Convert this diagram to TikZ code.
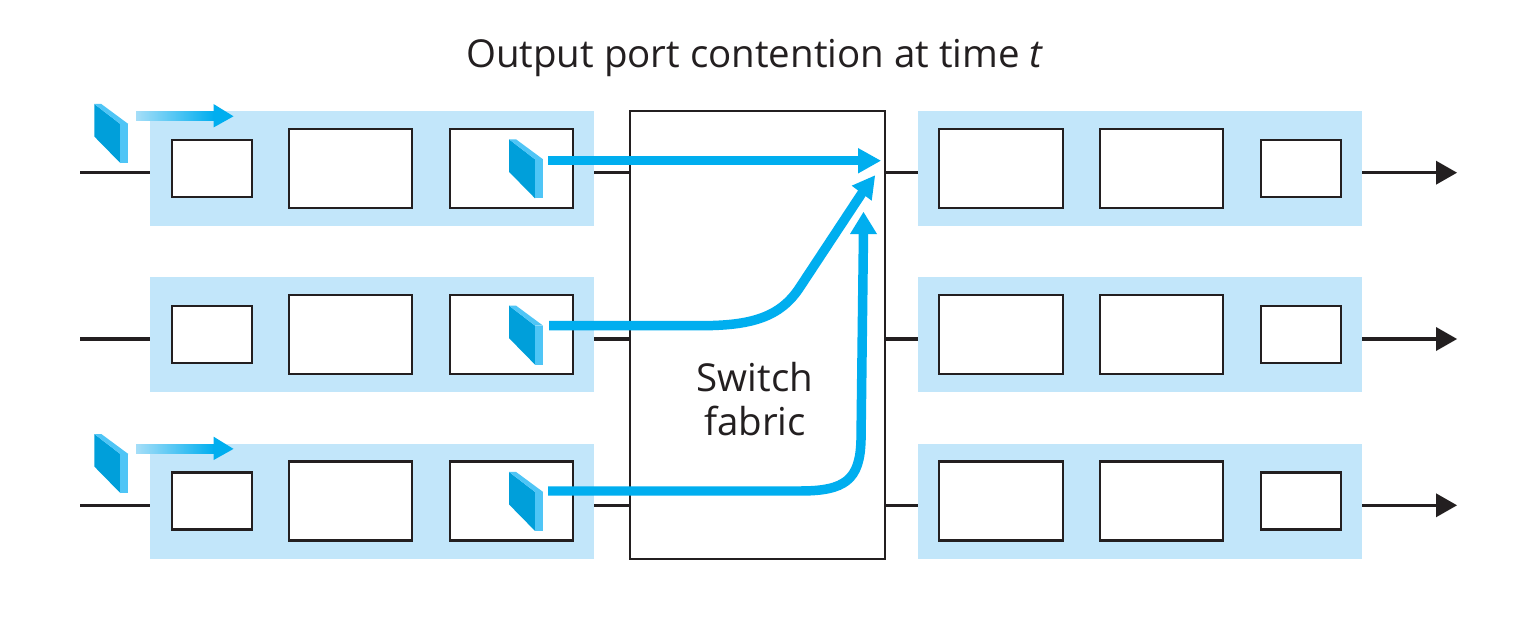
\documentclass[tikz,border=0pt]{standalone}
\usepackage{fontspec}
\setmainfont{Open Sans}
\definecolor{portblue}{HTML}{C2E6FA}
\definecolor{flow}{HTML}{00AEEF}
\definecolor{flowlight}{HTML}{A5DEF8}
\definecolor{pktfront}{HTML}{009FDA}
\definecolor{pktside}{HTML}{4FC5F6}
\definecolor{ink}{HTML}{231F20}
\tikzset{
  x=0.02cm,y=-0.02cm,
  portbg/.style={fill=portblue,draw=none,inner sep=0pt,outer sep=0pt},
  unit/.style={fill=white,draw=ink,line width=1.3pt,inner sep=0pt,outer sep=0pt},
  wire/.style={draw=ink,line width=1.95pt},
  flowline/.style={draw=flow,line width=5.4pt},
  flowhead/.style={fill=flow,draw=none},
  label/.style={text=ink,font=\fontsize{21.9}{25}\selectfont,align=center,inner sep=0pt}
}
\newcommand{\bx}[6]{\node[#6,minimum width={((#4)-(#2))*0.02cm},minimum height={((#5)-(#3))*0.02cm}] (#1) at ({((#2)+(#4))/2},{((#3)+(#5))/2}) {};}
\newcommand{\pkt}[2]{%
  \begin{scope}[shift={(#1,#2)}]
    \fill[pktfront] (0,0) -- (26,20) -- (26,59) -- (0,32.5) -- cycle;
    \fill[pktside] (26,20) -- (34,20) -- (34,59) -- (26,59) -- cycle;
    \fill[pktside] (0,0) -- (7,0) -- (34,20) -- (26,20) -- cycle;
  \end{scope}}
\newcommand{\inarrow}[1]{%
  \begin{scope}[shift={(0,#1)}]
    \shade[left color=flowlight,middle color=flow,right color=flow] (136,112) rectangle (214,121);
    \fill[flowhead] (213.5,104) -- (233.5,116.3) -- (213.5,127.5) -- cycle;
  \end{scope}}
\begin{document}
\begin{tikzpicture}
\useasboundingbox (0,0) rectangle (1535,635);
\fill[white] (0,0) rectangle (1535,635);
\foreach \r/\d in {1/0,2/166.3,3/332.6}{
  \bx{ib\r}{150}{111+\d}{594}{226+\d}{portbg}
  \bx{ob\r}{918}{111+\d}{1362}{226+\d}{portbg}
  \bx{ia\r}{172}{140+\d}{252}{197+\d}{unit}
  \bx{ib\r m}{289}{129+\d}{412}{208+\d}{unit}
  \bx{ic\r}{450}{129+\d}{573}{208+\d}{unit}
  \bx{oa\r}{939}{129+\d}{1063}{208+\d}{unit}
  \bx{ob\r m}{1100}{129+\d}{1223}{208+\d}{unit}
  \bx{oc\r}{1261}{140+\d}{1341}{197+\d}{unit}
}
\bx{sw}{630}{111}{885}{559}{unit}
\node[label] (title) at (755,58) {Output port contention at time \textit{t}};
\node[label] (swl) at (755,399) {Switch\\fabric};
\foreach \r/\y in {1/172.7,2/339.0,3/505.3}{
  \coordinate (s\r) at (80,\y);
  \coordinate (t\r) at (1457,\y);
  \coordinate (h\r) at (1436,\y);
  \draw[wire] (s\r) -- (s\r -| ib\r.west);
  \draw[wire] (ib\r.east |- s\r) -- (sw.west |- s\r);
  \draw[wire] (sw.east |- s\r) -- (ob\r.west |- s\r);
  \draw[wire] (ob\r.east |- s\r) -- (h\r);
  \fill[ink] (1436,\y-12) -- (t\r) -- (1436,\y+12) -- cycle;
}
% flows
\coordinate (f1) at (548,160.3);
\coordinate (f1e) at (860,160.3);
\draw[flowline] (f1) -- (f1e);
\fill[flowhead] (858,148) -- (880.7,160.7) -- (858,173.5) -- cycle;
\coordinate (f2) at (549,325.7);
\coordinate (f2e) at (864,190);
\draw[flowline] (f2) -- (700,325.7) .. controls (750,325.7) and (780,318) .. (800,287) -- (f2e);
\fill[flowhead] (851.7,185.7) -- (875,175.5) -- (871.7,200.7) -- cycle;
\coordinate (f3) at (548,491);
\coordinate (f3e) at (863.5,232);
\draw[flowline] (f3) -- (800,491) .. controls (845,491) and (860,480) .. (861,440) -- (f3e);
\fill[flowhead] (850,234) -- (863.5,212) -- (877,234) -- cycle;
% packets
\pkt{94.3}{104}
\pkt{94.3}{434}
\pkt{509}{139.3}
\pkt{509}{305.6}
\pkt{509}{471.9}
\inarrow{0}
\inarrow{332.6}
\end{tikzpicture}
\end{document}
